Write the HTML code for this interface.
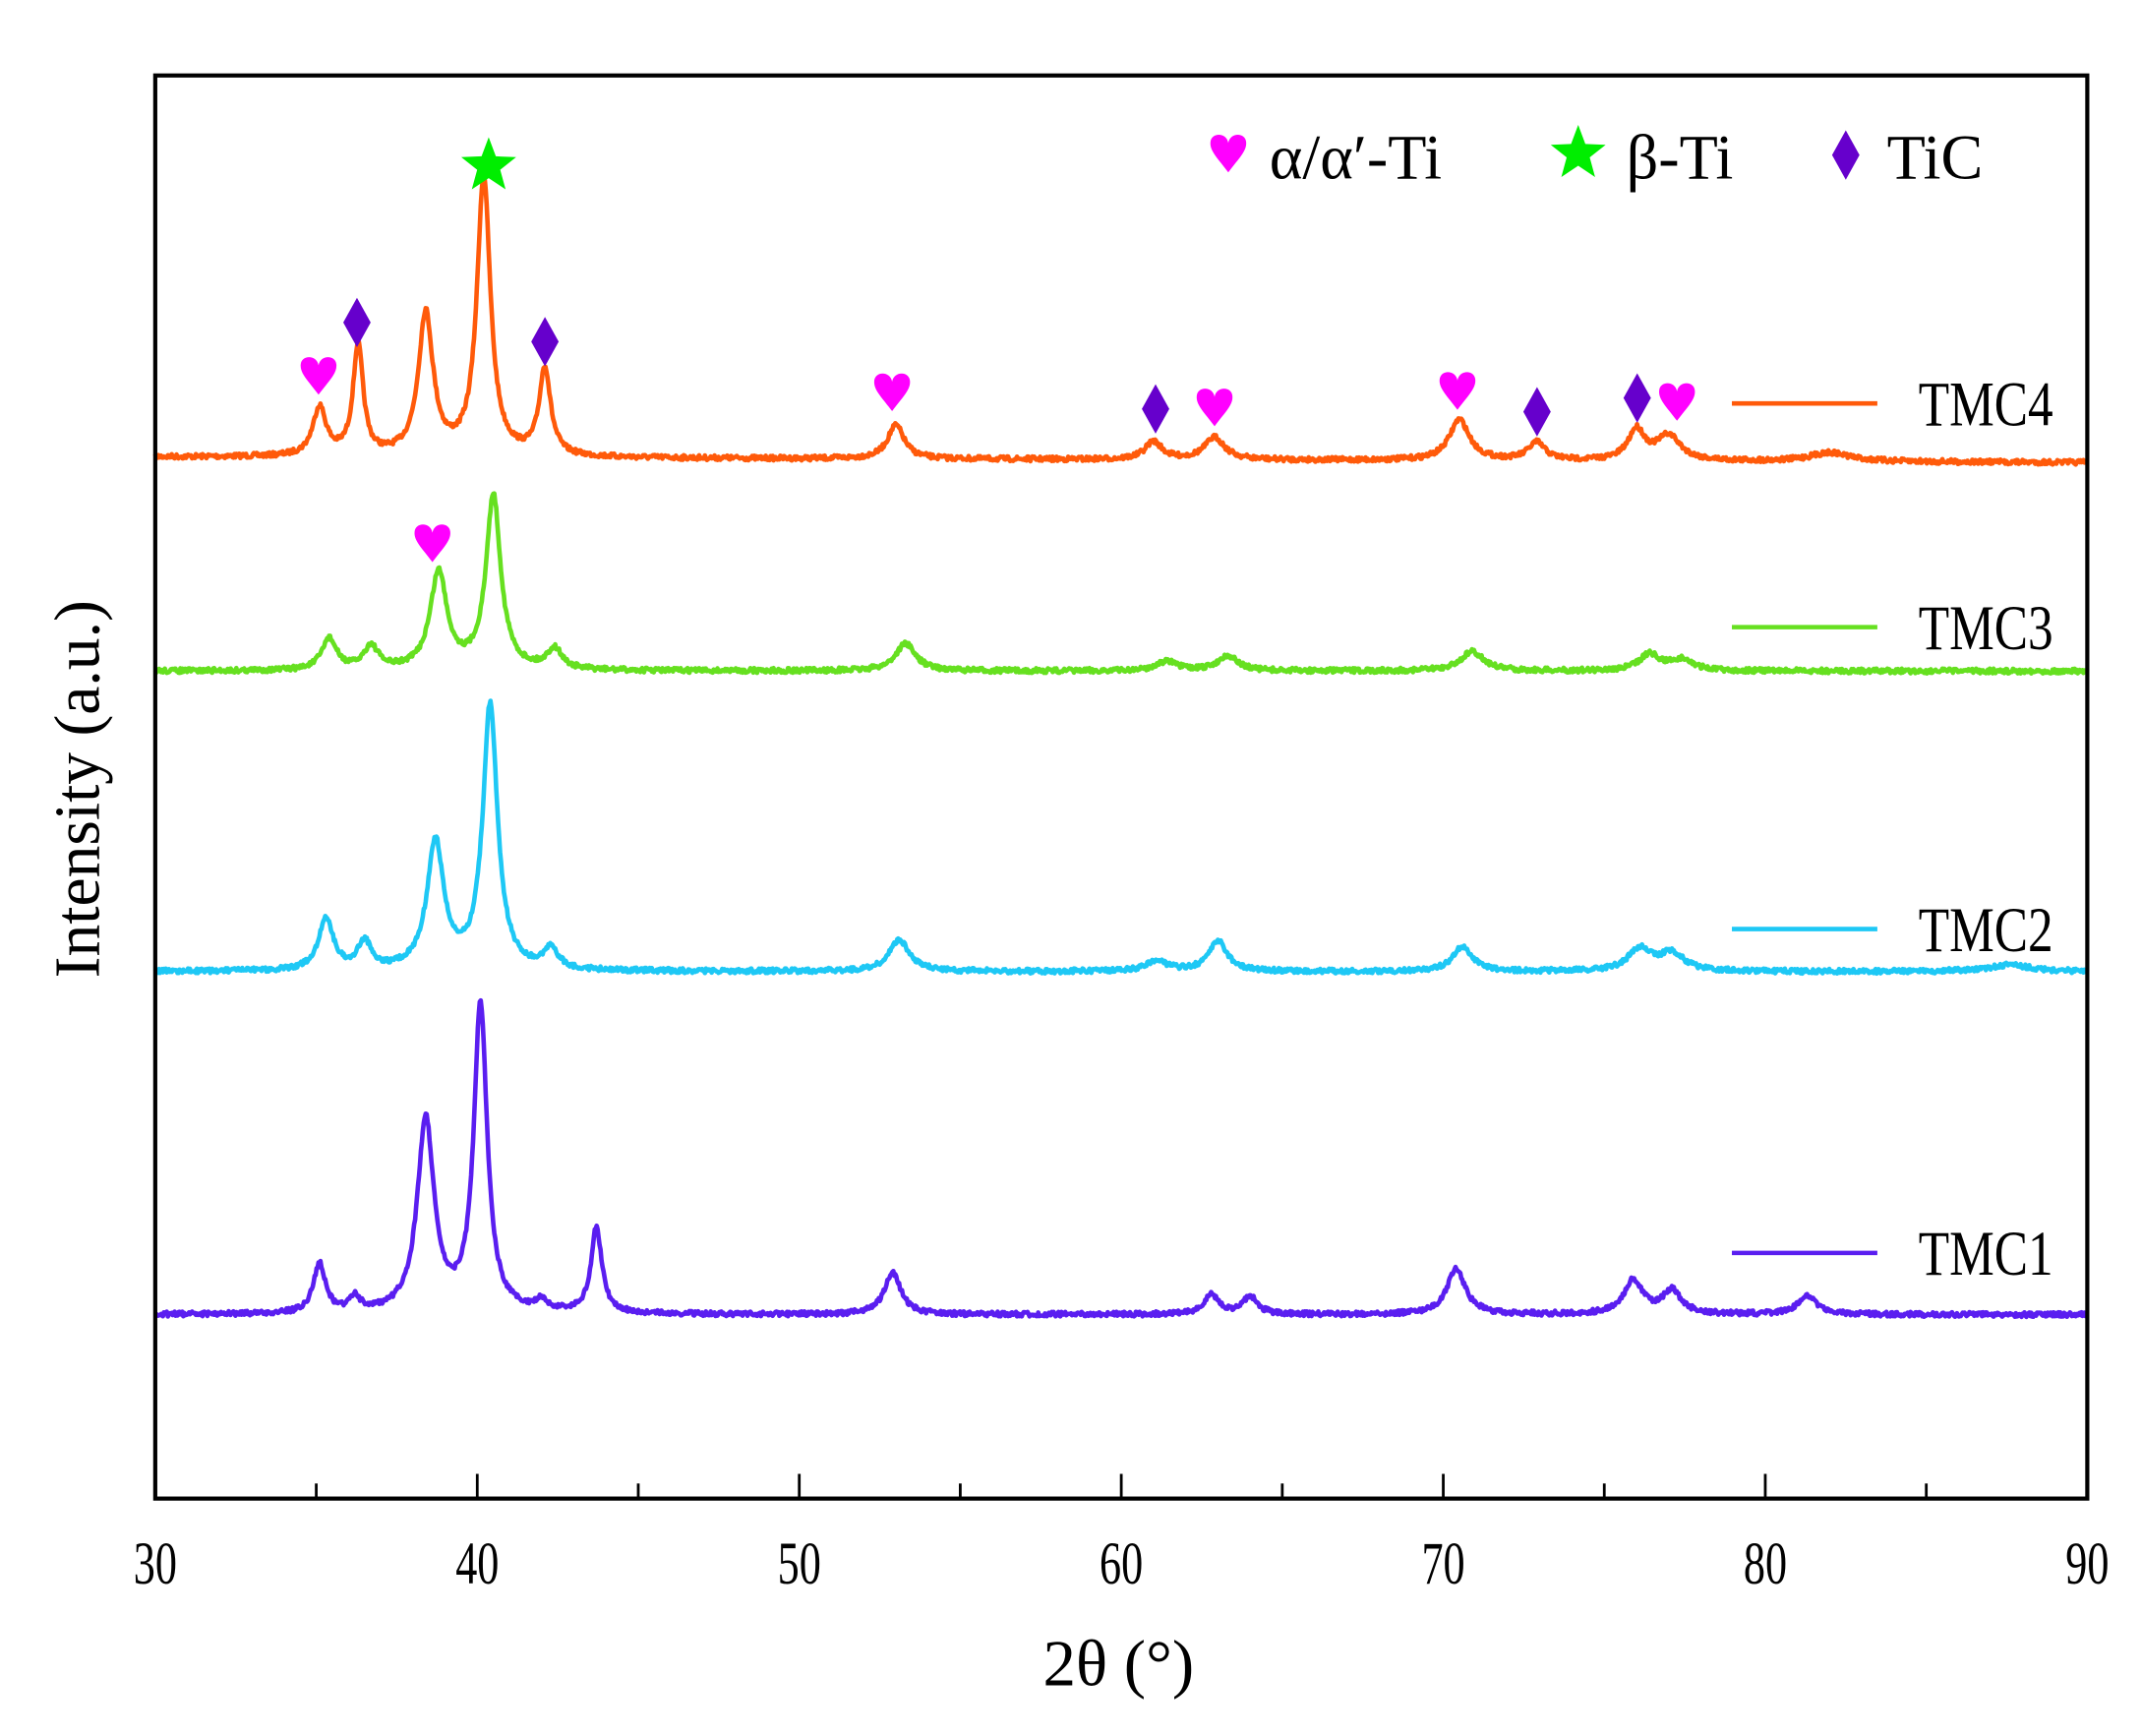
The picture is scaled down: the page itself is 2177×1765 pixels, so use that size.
<!DOCTYPE html>
<html><head><meta charset="utf-8"><style>
html,body{margin:0;padding:0;background:#fff;}
svg{display:block;}
text{font-family:"Liberation Serif",serif;fill:#000;}
</style></head><body>
<svg id="s" width="2177" height="1765" viewBox="0 0 1560 1265" xmlns="http://www.w3.org/2000/svg">
<rect width="1560" height="1265" fill="#fff"/>
<g id="series"></g>
<rect x="113" y="55" width="1408" height="1037" fill="none" stroke="#000" stroke-width="3"/>
<g id="ticks" stroke="#000" stroke-width="2"></g>
<g id="tl" font-size="44" text-anchor="middle"></g>
<text x="815" y="1228" font-size="48" text-anchor="middle">2θ (°)</text>
<text transform="translate(72 575) rotate(-90)" font-size="47" text-anchor="middle">Intensity (a.u.)</text>
<g font-size="46">
<text x="925" y="130">α/α′-Ti</text>
<text x="1185" y="130">β-Ti</text>
<text x="1375" y="130">TiC</text>
</g>
<g id="mk"></g>
<g id="leg" font-size="46"></g>
</svg>
<script>
var ns="http://www.w3.org/2000/svg";
function el(t,a,p){var e=document.createElementNS(ns,t);for(var k in a)e.setAttribute(k,a[k]);(p||document.getElementById('s')).appendChild(e);return e;}
function X(d){return 113+(d-30)*1408/60;}
var tk=document.getElementById('ticks'),tl=document.getElementById('tl');
for(var d=35;d<90;d+=5){var maj=d%10==0;el('line',{x1:X(d),x2:X(d),y1:1092,y2:1092-(maj?18:11)},tk);}
for(var d=30;d<=90;d+=10){var t=el('text',{x:0,y:0,transform:'translate('+X(d)+' 1154) scale(0.72 1)'},tl);t.textContent=d;}
var S=[
{c:'#ff5a0a',b0:333,b1:337,p:[[35.1,298,.2],[36.3,253,.15],[38.4,230,.22],[40.2,130,.2],[42.1,270,.17],[53,310,.25],[61,322,.25],[62.9,319,.3],[70.5,306,.3],[72.9,323,.25],[76,314,.25],[77,318,.35],[82,330,.6]],ly:294,n:'TMC4'},
{c:'#66e020',b0:489,b1:489,p:[[35.4,466,.22],[36.7,472,.22],[38.8,418,.25],[40.5,362,.22],[42.4,474,.22],[53.3,469,.3],[61.4,482,.3],[63.3,478,.3],[70.9,475,.35],[76.4,477,.3],[77.4,481,.35]],ly:457,n:'TMC3'},
{c:'#1ec8f5',b0:708,b1:708,p:[[35.3,670,.22],[36.5,688,.2],[38.7,615,.25],[40.4,515,.22],[42.3,693,.2],[53.1,685,.3],[61.1,700,.3],[63,686,.28],[70.6,690,.3],[76.1,692,.35],[77.1,695,.35],[87.6,703,.6]],ly:677,n:'TMC2'},
{c:'#5a1ef0',b0:958,b1:958,p:[[35.1,922,.18],[36.2,947,.15],[38.4,817,.25],[40.1,735,.2],[42,950,.18],[43.7,895,.16],[52.9,928,.25],[62.8,944,.22],[64,945,.22],[70.4,925,.28],[75.9,933,.28],[77.1,941,.28],[81.3,945,.3]],ly:913,n:'TMC1'}];
var g=document.getElementById('series'),seed=7;
function rnd(){seed=(seed*16807)%2147483647;return seed/2147483647;}
S.forEach(function(s){
 var pts=[];
 for(var d=30;d<=90.001;d+=0.03){
  var base=s.b0+(s.b1-s.b0)*(d-30)/60,y=base;
  s.p.forEach(function(p){var h=base-p[1];var u=(d-p[0])/(p[2]*1.25);y-=h/(1+u*u);});
  y+=(rnd()-0.5)*3.5;
  pts.push(X(d).toFixed(1)+','+y.toFixed(1));
 }
 el('polyline',{points:pts.join(' '),fill:'none',stroke:s.c,'stroke-width':3.3,'stroke-linejoin':'round'},g);
 var L=document.getElementById('leg');
 el('line',{x1:1262,x2:1368,y1:s.ly,y2:s.ly,stroke:s.c,'stroke-width':3.3},L);
 var t=el('text',{transform:'translate(1398 '+(s.ly+16)+') scale(0.8 1)'},L);t.textContent=s.n;
});
var mk=document.getElementById('mk');
function heart(x,y,r){el('path',{d:'M'+x+','+(y+r*1.2)+' C'+(x-r*0.6)+','+(y+r*0.4)+' '+(x-r*1.05)+','+(y)+' '+(x-r*1.0)+','+(y-r*0.5)+' C'+(x-r*0.95)+','+(y-r*1.05)+' '+(x-r*0.1)+','+(y-r*1.05)+' '+x+','+(y-r*0.45)+' C'+(x+r*0.1)+','+(y-r*1.05)+' '+(x+r*0.95)+','+(y-r*1.05)+' '+(x+r*1.0)+','+(y-r*0.5)+' C'+(x+r*1.05)+','+y+' '+(x+r*0.6)+','+(y+r*0.4)+' '+x+','+(y+r*1.2)+'Z',fill:'#ff00ff'},mk);}
function dia(x,y){el('path',{d:'M'+x+','+(y-18)+' L'+(x+10)+','+y+' L'+x+','+(y+18)+' L'+(x-10)+','+y+'Z',fill:'#6600cc'},mk);}
function star(x,y,R){var p=[];for(var i=0;i<10;i++){var r=i%2?R*0.42:R,a=-Math.PI/2+i*Math.PI/5;p.push((x+r*Math.cos(a)).toFixed(1)+','+(y+r*Math.sin(a)).toFixed(1));}el('polygon',{points:p.join(' '),fill:'#00ee00'},mk);}
[[232,272],[315,394],[650,284],[885,295],[1062,283],[1222,291],[895,110]].forEach(function(h){heart(h[0],h[1],13);});
[[260,235],[397,249],[842,298],[1120,300],[1193,290],[1345,113]].forEach(function(h){dia(h[0],h[1]);});
star(356,121,21);star(1150,112,21);
</script>
</body></html>
